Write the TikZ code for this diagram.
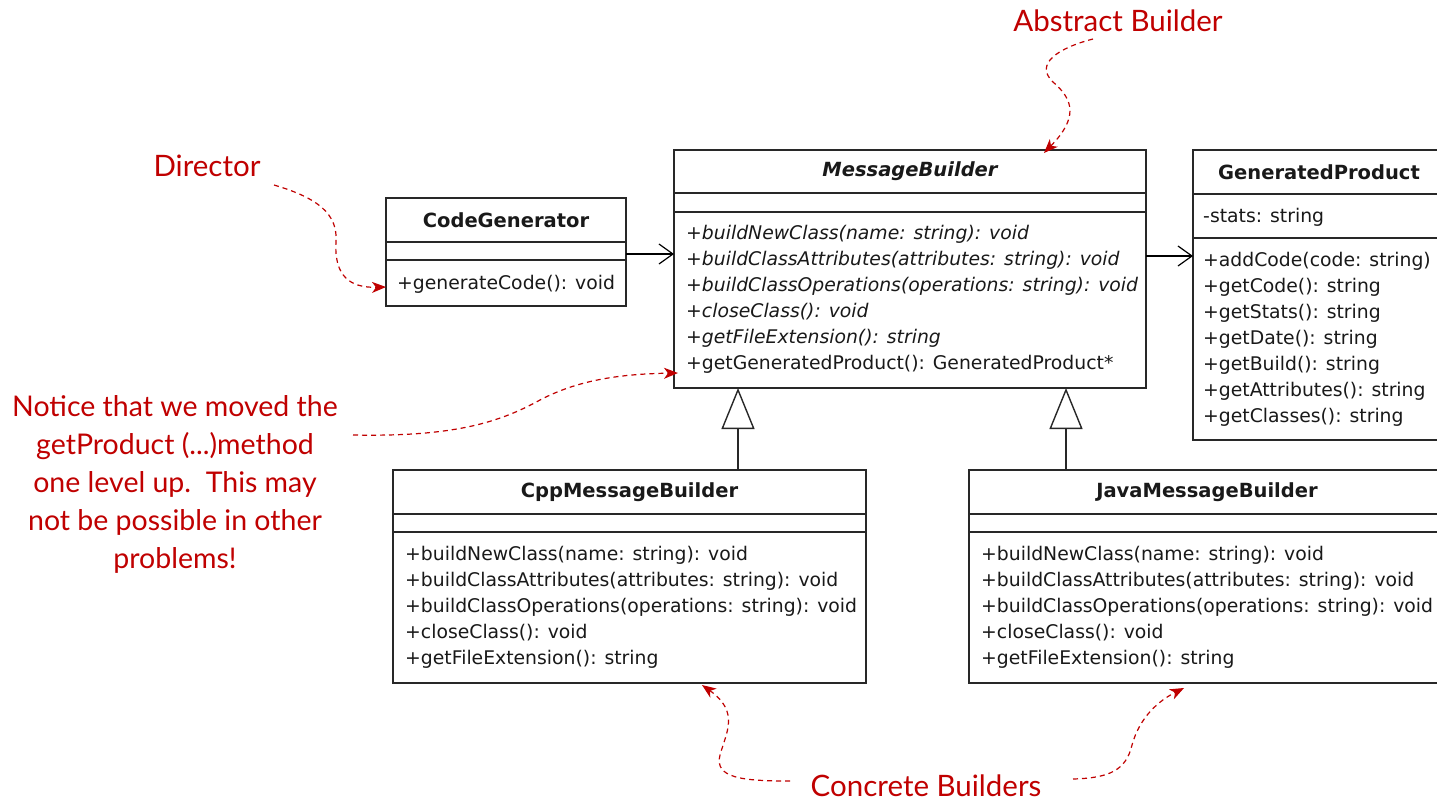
\documentclass[tikz,border=0pt]{standalone}
\usepackage{fontspec}
\setmainfont{DejaVu Sans}
\newfontfamily\handfont{Lato}
\usetikzlibrary{arrows.meta,positioning}

\definecolor{annot}{RGB}{192,0,0}
\definecolor{umlline}{RGB}{40,40,40}

\tikzset{
  x=1pt, y=-1pt,
  compart/.style={draw=umlline, line width=1.6pt, fill=white, inner sep=0pt,
    outer sep=0pt, anchor=north west, minimum height=#1},
  umltext/.style={font=\fontsize{18.8}{22}\selectfont, inner sep=0pt,
    text height=14pt, text depth=4pt, anchor=west, text=black!90},
  umltitle/.style={font=\fontsize{19.5}{23}\selectfont\bfseries, inner sep=0pt, text=black!90},
  dep/.style={draw=black, line width=1.4pt, -{Straight Barb[length=14pt,width=20pt,line width=1.2pt]}},
  inherit/.style={draw=umlline, line width=1.6pt, -{Triangle[open,length=41pt,width=33pt,line width=1.4pt]}},
  annot/.style={draw=annot, line width=1.2pt, dash pattern=on 5pt off 4pt,
    -{Stealth[length=14pt,width=11pt,inset=4pt]}},
  hand/.style={text=annot, font=\handfont\fontsize{29.5}{38}\selectfont, inner sep=0pt},
}

\begin{document}
\begin{tikzpicture}
\useasboundingbox (0,0) rectangle (1437,804);
\fill[white] (0,0) rectangle (1437,804);
\clip (0,0) rectangle (1437,804);

% ---------- CodeGenerator ----------
\node[compart=44pt, minimum width=240pt] (cgT) at (386,198) {};
\node[compart=18pt, minimum width=240pt] (cgA) at (cgT.south west) {};
\node[compart=46pt, minimum width=240pt] (cgO) at (cgA.south west) {};
\node[umltitle] (cgName) at (cgT.center) {CodeGenerator};
\node[umltext] (cg1) at (397,284) {+generateCode(): void};

% ---------- MessageBuilder ----------
\node[compart=43pt, minimum width=472pt] (mbT) at (674,150) {};
\node[compart=19pt, minimum width=472pt] (mbA) at (mbT.south west) {};
\node[compart=176pt, minimum width=472pt] (mbO) at (mbA.south west) {};
\node[umltitle, font=\fontsize{19.5}{23}\selectfont\bfseries\itshape] (mbName) at (mbT.center) {MessageBuilder};
\foreach \t [count=\i] in {{+buildNewClass(name: string): void},
    {+buildClassAttributes(attributes: string): void},
    {+buildClassOperations(operations: string): void},
    {+closeClass(): void},
    {+getFileExtension(): string}}
  \node[umltext, font=\fontsize{18.8}{22}\selectfont\itshape] (mb-\i) at (686,208+26*\i) {\t};
\node[umltext] (mb-6) at (686,364) {+getGeneratedProduct(): GeneratedProduct*};

% ---------- GeneratedProduct ----------
\node[compart=44pt, minimum width=252pt] (gpT) at (1193,150) {};
\node[compart=44pt, minimum width=252pt] (gpA) at (gpT.south west) {};
\node[compart=202pt, minimum width=252pt] (gpO) at (gpA.south west) {};
\node[umltitle] (gpName) at (gpT.center) {GeneratedProduct};
\node[umltext] (gpAttr) at (1203,217) {-stats: string};
\foreach \t [count=\i] in {{+addCode(code: string)},
    {+getCode(): string}, {+getStats(): string}, {+getDate(): string},
    {+getBuild(): string}, {+getAttributes(): string}, {+getClasses(): string}}
  \node[umltext] (gp-\i) at (1203,235+26*\i) {\t};

% ---------- CppMessageBuilder ----------
\node[compart=44pt, minimum width=473pt] (cppT) at (393,470) {};
\node[compart=18pt, minimum width=473pt] (cppA) at (cppT.south west) {};
\node[compart=151pt, minimum width=473pt] (cppO) at (cppA.south west) {};
\node[umltitle] (cppName) at (cppT.center) {CppMessageBuilder};
\foreach \t [count=\i] in {{+buildNewClass(name: string): void},
    {+buildClassAttributes(attributes: string): void},
    {+buildClassOperations(operations: string): void},
    {+closeClass(): void},
    {+getFileExtension(): string}}
  \node[umltext] (cpp-\i) at (405,529+26*\i) {\t};

% ---------- JavaMessageBuilder ----------
\node[compart=44pt, minimum width=476pt] (javaT) at (969,470) {};
\node[compart=18pt, minimum width=476pt] (javaA) at (javaT.south west) {};
\node[compart=151pt, minimum width=476pt] (javaO) at (javaA.south west) {};
\node[umltitle] (javaName) at (javaT.center) {JavaMessageBuilder};
\foreach \t [count=\i] in {{+buildNewClass(name: string): void},
    {+buildClassAttributes(attributes: string): void},
    {+buildClassOperations(operations: string): void},
    {+closeClass(): void},
    {+getFileExtension(): string}}
  \node[umltext] (java-\i) at (981,529+26*\i) {\t};

% ---------- relations ----------
\coordinate (d1) at (0,254);
\coordinate (d2) at (0,256);
\draw[dep] (cgA.east |- d1) -- (mbO.west |- d1);
\draw[dep] (mbO.east |- d2) -- (gpO.west |- d2);

\coordinate (g1) at (738,0);
\coordinate (g2) at (1066,0);
\draw[inherit] (cppT.north -| g1) -- (mbO.south -| g1);
\draw[inherit] (javaT.north -| g2) -- (mbO.south -| g2);

% ---------- annotations ----------
\node[hand] (dirLbl) at (207,166) {Director};
\node[hand] (absLbl) at (1118,21) {Abstract Builder};
\node[hand] (conLbl) at (926,786) {Concrete Builders};
\node[hand, font=\handfont\fontsize{28.5}{38}\selectfont, align=center] (noteLbl) at (175,484)
  {Notice that we moved the\\ getProduct (...)method\\ one level up.\ \ This may\\ not be possible in other\\ problems!};

\coordinate (dirS) at (274,185);
\coordinate (absS) at (1093,39);
\coordinate (noteS) at (353,435);
\coordinate (conL) at (790,781);
\coordinate (conR) at (1073,779);
\coordinate (t1) at (382,287);
\coordinate (t2) at (1044,0);
\coordinate (t3) at (0,373);
\coordinate (t4) at (702,0);
\coordinate (t5) at (1184,0);

\draw[annot] (dirS) .. controls (318,198) and (338,214) .. (336,242)
  .. controls (334,276) and (350,288) .. (cgO.west |- t1);
\draw[annot] (absS) .. controls (1058,48) and (1034,64) .. (1053,82)
  .. controls (1074,100) and (1078,118) .. ([yshift=-3pt]mbT.north -| t2);
\draw[annot] (noteS) .. controls (455,437) and (500,422) .. (540,400)
  .. controls (578,380) and (620,374) .. ([xshift=4pt]mbO.west |- t3);
\draw[annot] (conL) .. controls (742,781) and (714,778) .. (720,755)
  .. controls (726,733) and (740,712) .. ([yshift=-2pt]cppO.south -| t4);
\draw[annot] (conR) .. controls (1110,778) and (1126,770) .. (1132,745)
  .. controls (1140,716) and (1160,700) .. ([yshift=-5pt]javaO.south -| t5);
\end{tikzpicture}
\end{document}
